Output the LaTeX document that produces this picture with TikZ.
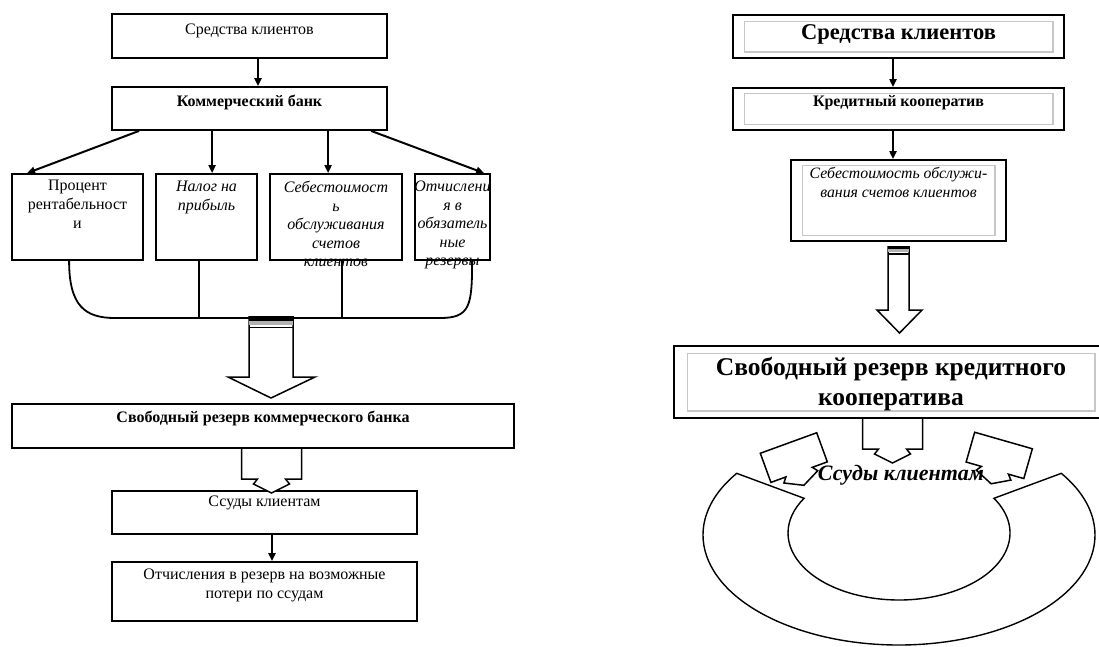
\documentclass[tikz,border=0pt]{standalone}
\usepackage{fontspec}
\setmainfont{Liberation Serif}
\usetikzlibrary{arrows.meta, positioning}

\tikzset{
  box/.style={draw, line width=1.8pt, inner sep=0pt},
  frame/.style={draw=black!22, line width=1.2pt},
  arr/.style={line width=2pt, -{Triangle[length=8pt,width=7pt]}},
  link/.style={line width=1.8pt},
  blk/.style={draw, line width=1.5pt, fill=white},
  txt/.style={inner sep=0pt, align=center, anchor=north, font=\fontsize{16}{19}\selectfont},
  callout/.pic={
    \draw[blk] (-30,0) -- (-30,31) -- (-14,31) -- (-18,36) -- (0,45)
      -- (18,36) -- (14,31) -- (30,31) -- (30,0) -- cycle;
  }
}

\begin{document}
\begin{tikzpicture}[x=1pt, y=-1pt]
  \useasboundingbox (0,0) rectangle (1099,646);
  \clip (0,0) rectangle (1099,646);

  % Commercial bank scheme on the left
  \node[box, minimum width=275, minimum height=44] (src) at (249.5,36) {};
  \node[box, minimum width=275, minimum height=43] (bank) at (249.5,108.5) {};
  \node[box, minimum width=131, minimum height=86] (pct) at (77.5,217) {};
  \node[box, minimum width=101, minimum height=86] (tax) at (206.5,217) {};
  \node[box, minimum width=132, minimum height=86] (cost) at (336,217) {};
  \node[box, minimum width=75, minimum height=86] (res) at (452.5,217) {};
  \node[box, minimum width=502, minimum height=44] (free) at (263,426) {};
  \node[box, minimum width=305, minimum height=43] (loan) at (264.5,512.5) {};
  \node[box, minimum width=305, minimum height=59] (prov) at (264.5,591.5) {};

  \node[txt, below=11pt of src.north] {Средства клиентов};
  \node[txt, below=9pt of bank.north, font=\fontsize{16}{19}\selectfont\bfseries] {Коммерческий банк};
  \node[txt, below=7pt of pct.north] {Процент\\рентабельност\\и};
  \node[txt, below=8pt of tax.north, font=\fontsize{16}{19}\selectfont\itshape] {Налог на\\прибыль};
  \node[txt, below=8pt of cost.north, font=\fontsize{16}{18.5}\selectfont\itshape]
    {Себестоимост\\ь\\обслуживания\\счетов\\клиентов};
  \node[txt, below=8pt of res.north, font=\fontsize{16}{18.5}\selectfont\itshape]
    {Отчислени\\я в\\обязатель\\ные\\резервы};
  \node[txt, below=8pt of free.north, font=\fontsize{16}{19}\selectfont\bfseries]
    {Свободный резерв коммерческого банка};
  \node[txt, below=6pt of loan.north] {Ссуды клиентам};
  \node[txt, below=8pt of prov.north] {Отчисления в резерв на возможные\\потери по ссудам};

  \draw[arr] ([xshift=8.5pt]src.south) -- ([xshift=8.5pt]bank.north);
  \draw[arr] ([xshift=28pt]bank.south west) -- ([xshift=16pt]pct.north west);
  \draw[arr] ([xshift=101pt]bank.south west) -- ([xshift=57pt]tax.north west);
  \draw[arr] ([xshift=217pt]bank.south west) -- ([xshift=59pt]cost.north west);
  \draw[arr] ([xshift=260pt]bank.south west) -- ([xshift=70pt]res.north west);

  % Collecting line under the four boxes
  \coordinate (bus) at (271,318);
  \draw[link] ([xshift=58pt]pct.south west) .. controls +(0,45) and +(-30,0) .. (115,318)
    -- (440,318) .. controls +(30,0) and +(0,45) .. ([xshift=58pt]res.south west);
  \draw[link] ([xshift=44pt]tax.south west) coordinate (t2) -- (t2 |- bus);
  \draw[link] ([xshift=73pt]cost.south west) coordinate (t3) -- (t3 |- bus);

  % Big block arrow with stripes
  \draw[blk] (249,316) -- (249,377) -- (228,377) -- (271,398) -- (315,377) -- (293,377) -- (293,316);
  \fill (249,316) rectangle (293,320.5);
  \fill[black!30] (249,320.5) rectangle (293,325);
  \draw[line width=1.5pt] (249,327.5) -- (293,327.5);

  \pic at (271.5,448) {callout};
  \draw[arr] ([xshift=7.5pt]loan.south) -- ([xshift=7.5pt]prov.north);

  % Credit cooperative scheme on the right
  \node[box, minimum width=331, minimum height=43] (rsrc) at (898.5,36.5) {};
  \node[box, minimum width=331, minimum height=42] (coop) at (898.5,109) {};
  \node[box, minimum width=215, minimum height=81] (rcost) at (898.5,200.5) {};
  \node[box, minimum width=434, minimum height=72] (rfree) at (891,382) {};
  \foreach \n/\dx/\dy in {rsrc/12/7, coop/12/6.5, rcost/12/6.5, rfree/14/8}
    \draw[frame] ([shift={(\dx,\dy)}]\n.north west) rectangle ([shift={(-\dx,-\dy)}]\n.south east);

  \node[txt, below=10pt of rsrc.north, font=\fontsize{22.5}{26}\selectfont\bfseries] {Средства клиентов};
  \node[txt, below=8pt of coop.north, font=\fontsize{16}{19}\selectfont\bfseries] {Кредитный кооператив};
  \node[txt, below=8pt of rcost.north, font=\fontsize{15.8}{19}\selectfont\itshape]
    {Себестоимость обслужи-\\вания счетов клиентов};
  \node[txt, below=12pt of rfree.north, font=\fontsize{25.5}{30}\selectfont\bfseries]
    {Свободный резерв кредитного\\кооператива};

  \draw[arr] ([xshift=-5.5pt]rsrc.south) -- ([xshift=-5.5pt]coop.north);
  \draw[arr] ([xshift=-5.5pt]coop.south) -- ([xshift=-5.5pt]rcost.north);

  \draw[blk] (888,246) -- (888,310) -- (877,310) -- (899.5,333) -- (922,310) -- (909,310) -- (909,246);
  \fill (888,246) rectangle (909,249);
  \fill[black!30] (888,249) rectangle (909,252);
  \draw[line width=1.3pt] (888,254) -- (909,254);

  % Ring of loans
  \draw[line width=1.4pt] ([shift={(214.1:196 and 110)}]899,535)
    arc[start angle=214.1, end angle=-34.1, x radius=196, y radius=110]
    -- ([shift={(-31.2:111 and 67)}]899,533)
    arc[start angle=-31.2, end angle=211.2, x radius=111, y radius=67] -- cycle;

  \pic at (892.5,418) {callout};
  \pic[rotate=20] at (788.5,443) {callout};
  \pic[rotate=-16] at (1003.5,440.5) {callout};

  \node[font=\fontsize{22}{26}\selectfont\bfseries\itshape, inner sep=0pt] (loans) at (901,475) {Ссуды клиентам};
\end{tikzpicture}
\end{document}
